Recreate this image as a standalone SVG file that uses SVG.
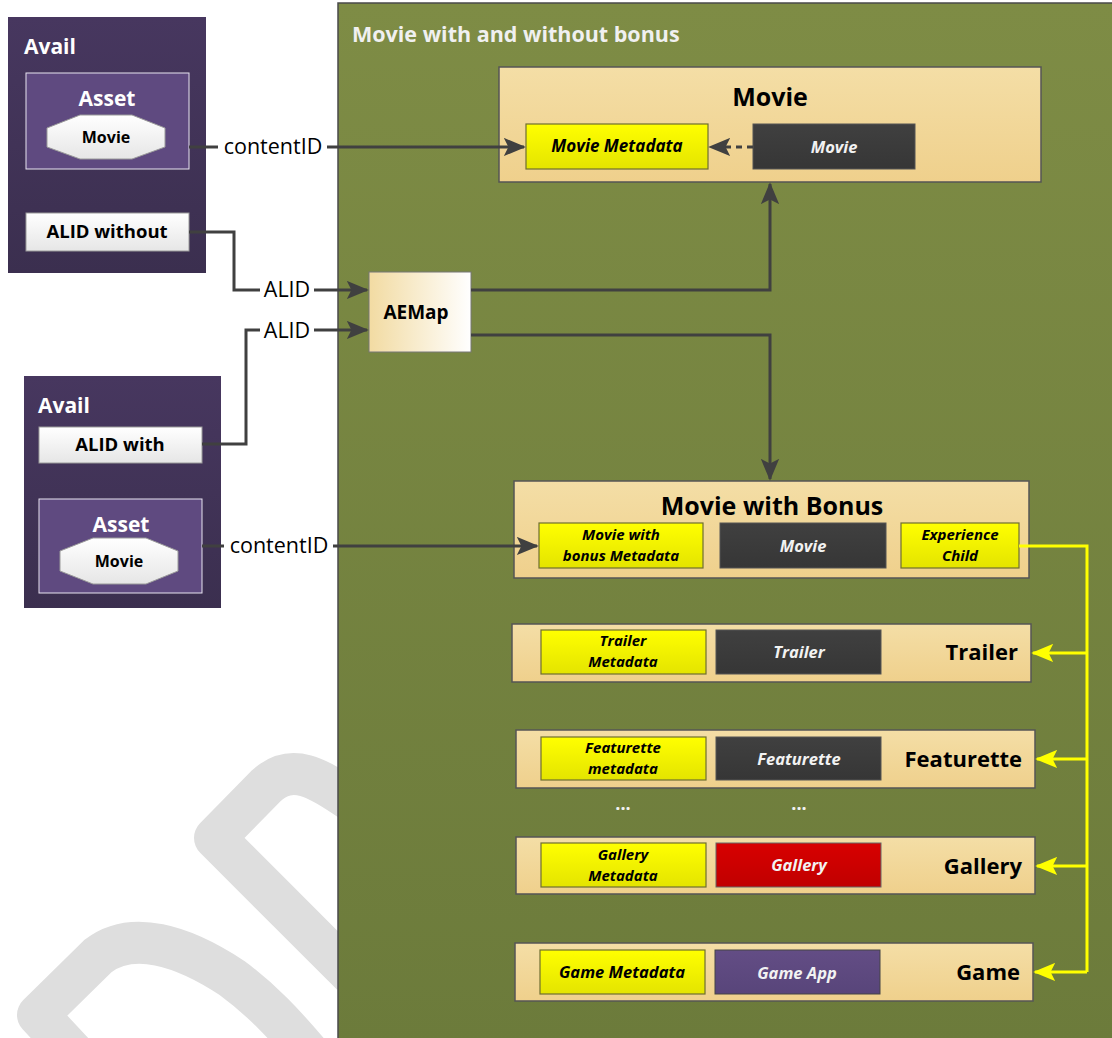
<svg xmlns="http://www.w3.org/2000/svg" width="1112" height="1038" viewBox="0 0 1112 1038">
  <defs>
    <linearGradient id="gAvail" x1="0" y1="0" x2="0" y2="1">
      <stop offset="0" stop-color="#47375f"/>
      <stop offset="1" stop-color="#3b2f4f"/>
    </linearGradient>
    <linearGradient id="gGreen" x1="0" y1="0" x2="0" y2="1">
      <stop offset="0" stop-color="#7e8c45"/>
      <stop offset="1" stop-color="#6c7b3b"/>
    </linearGradient>
    <linearGradient id="gTan" x1="0" y1="0" x2="0" y2="1">
      <stop offset="0" stop-color="#f4dea6"/>
      <stop offset="1" stop-color="#efd08c"/>
    </linearGradient>
    <linearGradient id="gYellow" x1="0" y1="0" x2="0" y2="1">
      <stop offset="0" stop-color="#ffff00"/>
      <stop offset="1" stop-color="#e4e400"/>
    </linearGradient>
    <linearGradient id="gDark" x1="0" y1="0" x2="0" y2="1">
      <stop offset="0" stop-color="#404040"/>
      <stop offset="1" stop-color="#363636"/>
    </linearGradient>
    <linearGradient id="gRed" x1="0" y1="0" x2="0" y2="1">
      <stop offset="0" stop-color="#d80000"/>
      <stop offset="1" stop-color="#c00000"/>
    </linearGradient>
    <linearGradient id="gPurple" x1="0" y1="0" x2="0" y2="1">
      <stop offset="0" stop-color="#634d85"/>
      <stop offset="1" stop-color="#58457a"/>
    </linearGradient>
    <linearGradient id="gWhite" x1="0" y1="0" x2="0" y2="1">
      <stop offset="0" stop-color="#ffffff"/>
      <stop offset="1" stop-color="#e6e6e6"/>
    </linearGradient>
    <linearGradient id="gAEMap" x1="0" y1="0" x2="1" y2="0">
      <stop offset="0" stop-color="#f2dba2"/>
      <stop offset="1" stop-color="#ffffff"/>
    </linearGradient>
    <marker id="arrDark" viewBox="0 0 12 10" refX="11" refY="5" markerWidth="22" markerHeight="19" markerUnits="userSpaceOnUse" orient="auto">
      <path d="M0,0 L12,5 L0,10 L2.5,5 z" fill="#404040"/>
    </marker>
    <marker id="arrYellow" viewBox="0 0 12 10" refX="11" refY="5" markerWidth="22" markerHeight="19" markerUnits="userSpaceOnUse" orient="auto">
      <path d="M0,0 L12,5 L0,10 L2.5,5 z" fill="#ffff00"/>
    </marker>
    <style>
      text { font-family: "Open Sans", Lato, "Liberation Sans", sans-serif; }
      .avail { fill: url(#gAvail); }
      .asset { fill: #5f4a80; stroke: #e8e4f0; stroke-width: 1; }
      .oct { fill: url(#gWhite); stroke: #9a9a9a; stroke-width: 1; }
      .wbox { fill: url(#gWhite); stroke: #9a9a9a; stroke-width: 1; }
      .tan { fill: url(#gTan); stroke: #555; stroke-width: 1.5; }
      .yel { fill: url(#gYellow); stroke: #6e6e30; stroke-width: 1.2; }
      .dark { fill: url(#gDark); stroke: #555; stroke-width: 1; }
      .red { fill: url(#gRed); stroke: #666; stroke-width: 1; }
      .purp { fill: url(#gPurple); stroke: #444; stroke-width: 1; }
      .hw { fill: #ffffff; font-weight: bold; font-size: 21px; }
      .hb { fill: #000; font-weight: bold; font-size: 25px; text-anchor: middle; }
      .side { fill: #000; font-weight: bold; font-size: 22px; text-anchor: end; }
      .lbl { fill: #000; font-weight: bold; font-size: 17px; text-anchor: middle; }
      .yt { fill: #000; font-weight: bold; font-style: italic; font-size: 16.5px; text-anchor: middle; }
      .yt2 { fill: #000; font-weight: bold; font-style: italic; font-size: 15px; text-anchor: middle; }
      .dt { fill: #f2f2f2; font-weight: bold; font-style: italic; font-size: 16.5px; text-anchor: middle; }
      .conn { fill: none; stroke: #404040; stroke-width: 3; }
      .ylw { fill: none; stroke: #ffff00; stroke-width: 3; }
      .clbl { fill: #000; font-size: 21.5px; text-anchor: middle; }
      .dots { fill: #f2f2f2; font-weight: bold; font-size: 18px; text-anchor: middle; }
    </style>
  </defs>

  <rect width="1112" height="1038" fill="#ffffff"/>

  <!-- background watermark strokes -->
  <g id="watermark" fill="none" stroke="#dedede" stroke-width="42" stroke-linejoin="round">
    <path d="M350,800 C318,778 292,762 266,786 L215,838 L352,975"/>
    <path d="M80,1060 L38,1015 L98,956 C132,930 182,945 232,978 C262,1000 285,1025 308,1052"/>
  </g>

  <!-- container -->
  <g id="container">
    <rect x="338" y="3" width="780" height="1040" fill="url(#gGreen)" stroke="#4a4a4a" stroke-width="1.5"/>
    <text x="352" y="42" class="hw" style="fill:#f0f0f0;font-size:21.5px">Movie with and without bonus</text>
  </g>

  <!-- upper avail -->
  <g id="avail-1">
    <rect x="8" y="17" width="198" height="256" class="avail"/>
    <text x="24" y="54" class="hw">Avail</text>
  </g>
  <g id="asset-1">
    <rect x="26" y="73" width="163" height="96" class="asset"/>
    <text x="107" y="106" class="hw" text-anchor="middle">Asset</text>
    <polygon points="80,115 132,115 165,128 165,147 132,159 80,159 47,147 47,128" class="oct"/>
    <text x="106" y="143" class="lbl" style="font-size:16px">Movie</text>
  </g>
  <g id="alid-without">
    <rect x="26" y="213" width="163" height="38" class="wbox"/>
    <text x="107" y="238" class="lbl" style="font-size:18.5px">ALID without</text>
  </g>

  <!-- lower avail -->
  <g id="avail-2">
    <rect x="24" y="376" width="197" height="232" class="avail"/>
    <text x="38" y="413" class="hw">Avail</text>
  </g>
  <g id="alid-with">
    <rect x="39" y="427" width="163" height="36" class="wbox"/>
    <text x="120" y="451" class="lbl" style="font-size:18.5px">ALID with</text>
  </g>
  <g id="asset-2">
    <rect x="39" y="499" width="163" height="94" class="asset"/>
    <text x="121" y="532" class="hw" text-anchor="middle">Asset</text>
    <polygon points="93,538 146,538 178,551 178,571 146,584 93,584 60,571 60,551" class="oct"/>
    <text x="119" y="567" class="lbl" style="font-size:16px">Movie</text>
  </g>

  <!-- AEMap -->
  <g id="aemap">
    <rect x="369" y="272" width="102" height="80" fill="url(#gAEMap)" stroke="#777" stroke-width="1"/>
    <text x="416" y="319" class="lbl" style="font-size:19px">AEMap</text>
  </g>

  <!-- Movie -->
  <g id="movie">
    <rect x="499" y="67" width="542" height="115" class="tan"/>
    <text x="770" y="106" class="hb">Movie</text>
    <rect x="526" y="124" width="182" height="45" class="yel"/>
    <text x="617" y="152" class="yt" style="font-size:17px">Movie Metadata</text>
    <rect x="753" y="124" width="162" height="45" class="dark"/>
    <text x="834" y="153" class="dt">Movie</text>
  </g>

  <!-- Movie with Bonus -->
  <g id="movie-bonus">
    <rect x="514" y="481" width="515" height="97" class="tan"/>
    <text x="772" y="515" class="hb">Movie with Bonus</text>
    <rect x="539" y="523" width="164" height="45" class="yel"/>
    <text class="yt2"><tspan x="621" y="540">Movie with</tspan><tspan x="621" y="561">bonus Metadata</tspan></text>
    <rect x="720" y="523" width="166" height="45" class="dark"/>
    <text x="803" y="552" class="dt">Movie</text>
    <rect x="901" y="523" width="118" height="45" class="yel"/>
    <text class="yt2"><tspan x="960" y="540">Experience</tspan><tspan x="960" y="561">Child</tspan></text>
  </g>

  <!-- Trailer -->
  <g id="trailer">
    <rect x="512" y="624" width="519" height="58" class="tan"/>
    <rect x="541" y="630" width="165" height="44" class="yel"/>
    <text class="yt2"><tspan x="623" y="646">Trailer</tspan><tspan x="623" y="667">Metadata</tspan></text>
    <rect x="716" y="630" width="165" height="44" class="dark"/>
    <text x="799" y="658" class="dt">Trailer</text>
    <text x="1018" y="660" class="side">Trailer</text>
  </g>

  <!-- Featurette -->
  <g id="featurette">
    <rect x="516" y="730" width="519" height="58" class="tan"/>
    <rect x="541" y="737" width="165" height="43" class="yel"/>
    <text class="yt2"><tspan x="623" y="753">Featurette</tspan><tspan x="623" y="774">metadata</tspan></text>
    <rect x="716" y="737" width="165" height="43" class="dark"/>
    <text x="799" y="765" class="dt">Featurette</text>
    <text x="1022" y="767" class="side">Featurette</text>
  </g>

  <text x="623" y="810" class="dots">...</text>
  <text x="799" y="810" class="dots">...</text>

  <!-- Gallery -->
  <g id="gallery">
    <rect x="516" y="837" width="519" height="57" class="tan"/>
    <rect x="541" y="843" width="165" height="44" class="yel"/>
    <text class="yt2"><tspan x="623" y="860">Gallery</tspan><tspan x="623" y="881">Metadata</tspan></text>
    <rect x="716" y="843" width="165" height="44" class="red"/>
    <text x="799" y="871" class="dt">Gallery</text>
    <text x="1022" y="874" class="side">Gallery</text>
  </g>

  <!-- Game -->
  <g id="game">
    <rect x="515" y="943" width="518" height="58" class="tan"/>
    <rect x="540" y="950" width="165" height="44" class="yel"/>
    <text x="622" y="978" class="yt">Game Metadata</text>
    <rect x="715" y="950" width="165" height="44" class="purp"/>
    <text x="797" y="979" class="dt">Game App</text>
    <text x="1020" y="980" class="side">Game</text>
  </g>

  <!-- connectors -->
  <g id="connectors">
    <path d="M189,147 L218,147" class="conn"/>
    <path d="M327,147 L524,147" class="conn" marker-end="url(#arrDark)"/>
    <text x="273" y="154" class="clbl">contentID</text>

    <path d="M753,147 L710,147" class="conn" stroke-dasharray="6,5" marker-end="url(#arrDark)"/>

    <path d="M189,232 L234,232 L234,290 L260,290" class="conn"/>
    <path d="M314,290 L367,290" class="conn" marker-end="url(#arrDark)"/>
    <text x="287" y="297" class="clbl">ALID</text>

    <path d="M202,444 L246,444 L246,330 L260,330" class="conn"/>
    <path d="M314,330 L367,330" class="conn" marker-end="url(#arrDark)"/>
    <text x="287" y="338" class="clbl">ALID</text>

    <path d="M202,546 L224,546" class="conn"/>
    <path d="M333,546 L537,546" class="conn" marker-end="url(#arrDark)"/>
    <text x="279" y="553" class="clbl">contentID</text>

    <path d="M471,290 L770,290 L770,184" class="conn" marker-end="url(#arrDark)"/>
    <path d="M471,335 L770,335 L770,479" class="conn" marker-end="url(#arrDark)"/>

    <path d="M1019,546 L1087,546 L1087,972" class="ylw"/>
    <path d="M1087,653 L1033,653" class="ylw" marker-end="url(#arrYellow)"/>
    <path d="M1087,759 L1037,759" class="ylw" marker-end="url(#arrYellow)"/>
    <path d="M1087,866 L1037,866" class="ylw" marker-end="url(#arrYellow)"/>
    <path d="M1087,972 L1035,972" class="ylw" marker-end="url(#arrYellow)"/>
  </g>
</svg>
